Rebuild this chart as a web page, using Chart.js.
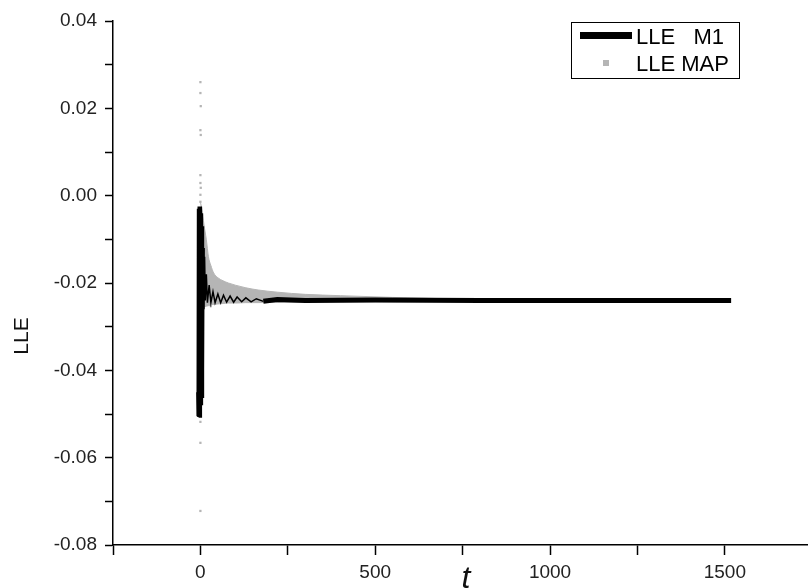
<!DOCTYPE html>
<html>
<head>
<meta charset="utf-8">
<script src="https://cdn.jsdelivr.net/npm/chart.js@4.4.1/dist/chart.umd.min.js"></script>
<style>
  html, body { margin: 0; padding: 0; background: #fff; }
  #wrap { width: 811px; height: 588px; position: relative; }
</style>
</head>
<body>
<div id="wrap"><canvas id="lleChart"></canvas></div>
<script>
// ---- data ----
// LLE M1 (black): big swing around t = 0, then settles near -0.024
const m1Time = [-8, -7, -6, -5, -4, -3, -2, -1, 0, 1, 2, 3, 4, 5, 6, 7, 8, 10, 12, 14, 17, 20, 25, 30, 36, 42, 50, 58, 66, 75, 85, 95, 105, 118, 130, 145, 160, 180, 220, 300, 500, 800, 1100, 1400, 1518];
const m1Value = [-0.045, -0.0505, -0.003, -0.0507, -0.0025, -0.050, -0.003, -0.0505, -0.0025, -0.049, -0.004, -0.048, -0.005, -0.046, -0.007, -0.040, -0.012, -0.026, -0.014, -0.024, -0.018, -0.0245, -0.0205, -0.0245, -0.022, -0.0245, -0.0225, -0.0245, -0.0228, -0.0244, -0.023, -0.0244, -0.0232, -0.0243, -0.0234, -0.0243, -0.0236, -0.0242, -0.0238, -0.0240, -0.0239, -0.0240, -0.0240, -0.0240, -0.0240];

// LLE MAP (gray): band between an upper and a lower envelope
const mapTime = [0, 5, 10, 17, 23, 30, 38, 50, 65, 80, 100, 130, 165, 220, 300, 400, 550, 700];
const mapUpper = [-0.0015, -0.0033, -0.0065, -0.0101, -0.0140, -0.0160, -0.0177, -0.0188, -0.0195, -0.0200, -0.0205, -0.0211, -0.0216, -0.0221, -0.0226, -0.0229, -0.0233, -0.0236];
const mapLower = [-0.0255, -0.0255, -0.0255, -0.0253, -0.0252, -0.0250, -0.0249, -0.0248, -0.0247, -0.0246, -0.0246, -0.0245, -0.0245, -0.0244, -0.0244, -0.0243, -0.0243, -0.0242];

// LLE MAP scattered points at the very start
const mapDotTime = [0, 0, 1, 0, 1, 0, 0, 1, 0, 0, 0, 0, 0, 30];
const mapDotValue = [0.026, 0.0235, 0.0205, 0.015, 0.0139, 0.0047, 0.0029, 0.0018, 0.0002, -0.0014, -0.0518, -0.0566, -0.0722, -0.0253];

// axis ranges / ticks
const xMin = -250, xMax = 1735;
const xTickValues = [-250, 0, 250, 500, 750, 1000, 1250, 1500];
const xLabelStep = 500;
const yMin = -0.08, yMax = 0.04, yStep = 0.01;

const m1Label = "LLE   M1";
const mapLabel = "LLE MAP";

const FONT = "'Liberation Sans', Arial, sans-serif";
const GRAY = "#b5b5b5";

function toPoints(xs, ys) {
    return xs.map((x, i) => ({ x: x, y: ys[i] }));
}

// draws the boxed legend inside the plot and the two axis titles
const decorations = {
    id: "decorations",
    afterDraw(chart) {
        const ctx = chart.ctx;
        ctx.save();

        // legend box
        ctx.strokeStyle = "#000";
        ctx.lineWidth = 1;
        ctx.strokeRect(571.5, 22.5, 168, 56);
        ctx.fillStyle = "#000";
        ctx.fillRect(580, 32, 52, 7);
        ctx.fillStyle = GRAY;
        ctx.fillRect(603, 60, 6, 6);

        ctx.fillStyle = "#000";
        ctx.font = "22px " + FONT;
        ctx.textBaseline = "middle";
        ctx.textAlign = "left";
        ctx.fillText(m1Label, 636, 38);
        ctx.fillText(mapLabel, 636, 65);

        // y title
        ctx.font = "21px " + FONT;
        ctx.fillStyle = "#111";
        ctx.translate(22, 336);
        ctx.rotate(-Math.PI / 2);
        ctx.textAlign = "center";
        ctx.fillText("LLE", 0, 0);
        ctx.setTransform(1, 0, 0, 1, 0, 0);

        // x title
        ctx.font = "italic 32px " + FONT;
        ctx.textAlign = "center";
        ctx.textBaseline = "alphabetic";
        ctx.fillText("t", 466, 588);

        ctx.restore();
    }
};

new Chart(document.getElementById("lleChart"), {
    type: "scatter",
    data: {
        datasets: [
            {
                label: m1Label,
                data: toPoints(m1Time, m1Value),
                showLine: true,
                borderColor: "#000",
                borderWidth: 3,
                segment: {
                    borderWidth: c => (c.p0.parsed.x >= 170 ? 5 : (c.p0.parsed.x >= 8 ? 1.5 : 3))
                },
                pointRadius: 0,
                fill: false
            },
            {
                label: mapLabel + " upper",
                data: toPoints(mapTime, mapUpper),
                showLine: true,
                borderColor: GRAY,
                borderWidth: 1,
                cubicInterpolationMode: "monotone",
                pointRadius: 0,
                fill: false
            },
            {
                label: mapLabel,
                data: toPoints(mapTime, mapLower),
                showLine: true,
                borderColor: GRAY,
                backgroundColor: GRAY,
                borderWidth: 1,
                cubicInterpolationMode: "monotone",
                pointRadius: 0,
                fill: 1
            },
            {
                label: mapLabel + " points",
                data: toPoints(mapDotTime, mapDotValue),
                pointStyle: "rect",
                pointRadius: 1.6,
                backgroundColor: GRAY,
                borderWidth: 0
            }
        ]
    },
    options: {
        responsive: true,
        maintainAspectRatio: false,
        animation: false,
        layout: { padding: { top: 21, right: 0, bottom: 0, left: 0 } },
        plugins: {
            legend: { display: false },
            tooltip: { enabled: false }
        },
        scales: {
            x: {
                type: "linear",
                min: xMin,
                max: xMax,
                afterBuildTicks: s => { s.ticks = xTickValues.map(v => ({ value: v })); },
                afterFit: s => { s.height = 43; },
                border: { display: true, color: "#000", width: 1.5 },
                grid: {
                    drawOnChartArea: false,
                    drawTicks: true,
                    tickLength: 10,
                    tickWidth: 1.5,
                    tickColor: "#000"
                },
                ticks: {
                    autoSkip: false,
                    maxRotation: 0,
                    padding: 6,
                    color: "#222",
                    font: { family: FONT, size: 19 },
                    callback: v => (v % xLabelStep === 0 ? String(v) : "")
                }
            },
            y: {
                min: yMin,
                max: yMax,
                afterFit: s => { s.width = 113; },
                border: { display: true, color: "#000", width: 1.5 },
                grid: {
                    drawOnChartArea: false,
                    drawTicks: true,
                    tickLength: 8,
                    tickWidth: 1.5,
                    tickColor: "#000"
                },
                ticks: {
                    stepSize: yStep,
                    autoSkip: false,
                    padding: 8,
                    color: "#222",
                    font: { family: FONT, size: 19 },
                    callback: v => {
                        const k = Math.round(v * 100);
                        return k % 2 === 0 ? (k / 100).toFixed(2) : "";
                    }
                }
            }
        }
    },
    plugins: [decorations]
});
</script>
</body>
</html>
